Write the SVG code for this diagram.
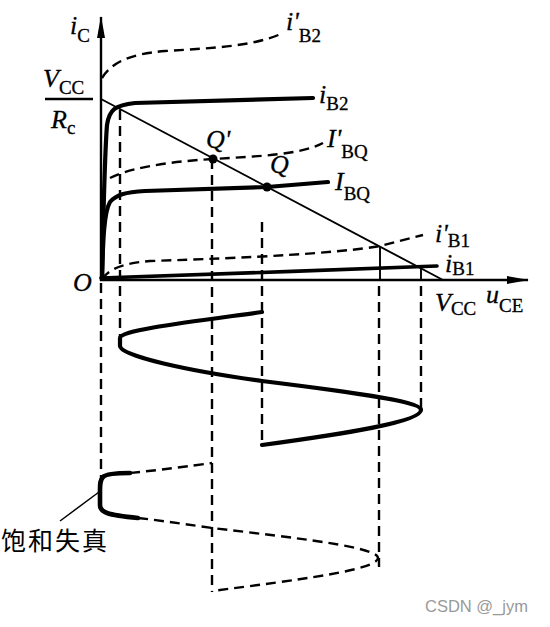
<svg xmlns="http://www.w3.org/2000/svg" width="550" height="627" viewBox="0 0 550 627">
<style>
.v{font-family:"Liberation Serif",serif;font-style:italic;font-size:26px;fill:#000;stroke:#000;stroke-width:0.3}
.s{font-family:"Liberation Serif",serif;font-style:normal;font-size:19px}
.thick{fill:none;stroke:#000;stroke-width:4.2;stroke-linecap:round;stroke-linejoin:round}
.dash{fill:none;stroke:#000;stroke-width:2.4;stroke-dasharray:10 6}
.thin{fill:none;stroke:#000;stroke-width:1.9}
.axis{fill:none;stroke:#000;stroke-width:2.4}
</style>
<defs>
<marker id="arr" viewBox="0 0 22 10" refX="21" refY="5" markerWidth="22" markerHeight="10" markerUnits="userSpaceOnUse" orient="auto">
<path d="M0,1 L22,5 L0,9 Z" fill="#000"/>
</marker>
</defs>
<rect width="550" height="627" fill="#fff"/>

<g id="axes">
<line class="axis" x1="101" y1="281" x2="101" y2="17" marker-end="url(#arr)"/>
<line class="axis" x1="100" y1="280" x2="528" y2="280" marker-end="url(#arr)"/>
<line class="axis" x1="45" y1="99" x2="93" y2="99"/>
</g>

<g id="load-line">
<line class="thin" x1="101" y1="99" x2="443" y2="280"/>
</g>

<g id="curves">
<path class="thick" d="M102,279 C103,230 105,150 107,125 C109,110 115,105 135,103 C200,101 260,99 313,98"/>
<path class="thick" d="M102,279 C103,240 104,212 110,202 C116,195 125,192 145,191 L267,187 L328,182"/>
<path class="thick" style="stroke-width:3.6" d="M101,278 C200,275 330,270 437,266"/>
<path class="dash" d="M102,78 C112,62 130,54 165,51 C215,48 255,46 283,33"/>
<path class="dash" d="M110,178 C125,170 160,162 213,159 C260,156 300,155 323,143"/>
<path class="dash" d="M102,279 C110,268 125,263 150,261 C250,258 340,253 380,246 L423,235"/>
</g>

<g id="points">
<circle cx="213" cy="159" r="4.5" fill="#000"/>
<circle cx="267" cy="187" r="4.5" fill="#000"/>
</g>

<g id="projections">
<line class="dash" x1="120" y1="110" x2="120" y2="340"/>
<line class="dash" x1="212" y1="159" x2="212" y2="592"/>
<line class="dash" x1="262" y1="222" x2="262" y2="445"/>
<line class="dash" x1="101" y1="283" x2="101" y2="477"/>
<line class="thin" x1="380" y1="246" x2="380" y2="280"/>
<line class="dash" x1="379" y1="286" x2="379" y2="567"/>
<line class="thin" x1="421" y1="267" x2="421" y2="280"/>
<line class="dash" x1="421" y1="286" x2="421" y2="410"/>
</g>

<g id="uce-wave">
<path class="thick" d="M262,312 C189,322 120,330 120,338 L120,346 C120,356 189,371 262,381 C343,391 421,401 421,410 C421,422 343,434 262,445"/>
</g>

<g id="ic-wave">
<path class="dash" d="M130,473 C160,470 190,466 212,463"/>
<path class="thick" style="stroke-width:4.6" d="M130,473 C115,473 106,474 103,477 C100,480 100,484 100,490 L100,505 C100,512 106,515 138,518"/>
<path class="dash" d="M138,518 C165,521 190,525 212,528 C297,538 378,547 378,558 C378,570 297,580 212,591"/>
</g>

<g id="saturation-label">
<line x1="60" y1="521" x2="99" y2="492" stroke="#000" stroke-width="1.5"/>
<text x="1" y="550" style="font-family:'Noto Sans CJK SC',sans-serif;font-size:25px;letter-spacing:2px">饱和失真</text>
</g>

<g id="labels">
<text class="v" x="70" y="34">i<tspan class="s" dy="8">C</tspan></text>
<text class="v" x="43" y="87">V<tspan class="s" dy="7">CC</tspan></text>
<text class="v" x="51" y="128">R<tspan class="s" dy="6">c</tspan></text>
<text class="v" x="286" y="30">i'<tspan class="s" dy="12">B2</tspan></text>
<text class="v" x="319" y="103">i<tspan class="s" dy="7">B2</tspan></text>
<text class="v" x="206" y="148">Q'</text>
<text class="v" x="270" y="173">Q</text>
<text class="v" x="327" y="147">I'<tspan class="s" dy="11">BQ</tspan></text>
<text class="v" x="335" y="190">I<tspan class="s" dy="10">BQ</tspan></text>
<text class="v" x="435" y="242">i'<tspan class="s" dy="5">B1</tspan></text>
<text class="v" x="445" y="272">i<tspan class="s" dy="3">B1</tspan></text>
<text class="v" x="73" y="291">O</text>
<text class="v" x="435" y="311">V<tspan class="s" dy="4">CC</tspan></text>
<text class="v" x="486" y="303">u<tspan class="s" dy="9">CE</tspan></text>
<text x="425" y="612" style="font-family:'Liberation Sans',sans-serif;font-size:16.5px;fill:#999">CSDN @_jym</text>
</g>
</svg>
